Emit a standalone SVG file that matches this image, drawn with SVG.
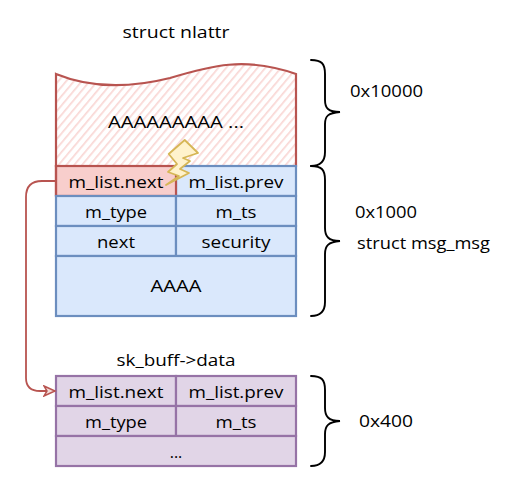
<svg xmlns="http://www.w3.org/2000/svg" width="522" height="482" viewBox="0 0 522 482">
<defs>
<style>
text{font-family:"Open Sans","DejaVu Sans",sans-serif;font-size:16px;fill:#000;text-anchor:middle;dominant-baseline:central}
.l{text-anchor:start}
.blue{fill:#dae8fc;stroke:#6c8ebf;stroke-width:2.2}
.pink{fill:#f8cecc;stroke:#b85450;stroke-width:2.2}
.purple{fill:#e1d5e7;stroke:#9673a6;stroke-width:2.2}
.brace{fill:none;stroke:#000;stroke-width:1.9;stroke-linecap:round}
</style>
<pattern id="hatch" width="6" height="6" patternUnits="userSpaceOnUse" patternTransform="rotate(-50)">
<rect x="0" y="0" width="6" height="1.7" fill="#f9d7d5"/>
</pattern>
<marker id="arr" markerWidth="14" markerHeight="12" refX="12" refY="6" orient="auto" markerUnits="userSpaceOnUse">
<path d="M1 1 L12 6 L1 11 L4 6 Z" fill="#f3dcd9" stroke="#b85450" stroke-width="1.5"/>
</marker>
</defs>
<text x="176" y="32" textLength="107" lengthAdjust="spacingAndGlyphs">struct nlattr</text>
<g id="nlattr">
<path d="M56 74 C 90 88 130 88 170 78 C 210 66 245 56 296 74 L296 166 L56 166 Z" fill="url(#hatch)" stroke="none"/>
<path d="M56 74 C 90 88 130 88 170 78 C 210 66 245 56 296 74 L296 166 L56 166 Z" fill="none" stroke="#b85450" stroke-width="2.2"/>
<text x="176" y="122" textLength="136" lengthAdjust="spacingAndGlyphs">AAAAAAAAA ...</text>
</g>
<g id="msg_msg">
<g id="m1-prev"><rect class="blue" x="176" y="166" width="120" height="30"/><text x="236" y="182" textLength="95" lengthAdjust="spacingAndGlyphs">m_list.prev</text></g>
<g id="m1-next"><rect class="pink" x="56" y="166" width="120" height="30" stroke="none"/><path d="M56 196 V166 H176" fill="none" stroke="#b85450" stroke-width="2.2"/><text x="116" y="182" textLength="95" lengthAdjust="spacingAndGlyphs">m_list.next</text></g>
<g id="m1-type"><rect class="blue" x="56" y="196" width="120" height="30"/><text x="116" y="212" textLength="62" lengthAdjust="spacingAndGlyphs">m_type</text></g>
<g id="m1-ts"><rect class="blue" x="176" y="196" width="120" height="30"/><text x="236" y="212" textLength="41" lengthAdjust="spacingAndGlyphs">m_ts</text></g>
<g id="m1-nx"><rect class="blue" x="56" y="226" width="120" height="30"/><text x="116" y="242" textLength="38" lengthAdjust="spacingAndGlyphs">next</text></g>
<g id="m1-sec"><rect class="blue" x="176" y="226" width="120" height="30"/><text x="236" y="242" textLength="69" lengthAdjust="spacingAndGlyphs">security</text></g>
<g id="m1-a"><rect class="blue" x="56" y="256" width="240" height="60"/><text x="176" y="286" textLength="51" lengthAdjust="spacingAndGlyphs">AAAA</text></g>
</g>
<g id="bolt"><path d="M184.7 140 L168.7 154 L177 164 L168 172 L179 176 L166 185 L189 173 L180 169 L190 161 L183 158 L198 153 Z" fill="#fff2cc" stroke="#d6b656" stroke-width="1.8" stroke-linejoin="round"/></g>
<text x="176" y="360" textLength="119" lengthAdjust="spacingAndGlyphs">sk_buff-&gt;data</text>
<g id="sk_buff">
<g id="m2-next"><rect class="purple" x="56" y="376" width="120" height="30"/><text x="116" y="392" textLength="95" lengthAdjust="spacingAndGlyphs">m_list.next</text></g>
<g id="m2-prev"><rect class="purple" x="176" y="376" width="120" height="30"/><text x="236" y="392" textLength="95" lengthAdjust="spacingAndGlyphs">m_list.prev</text></g>
<g id="m2-type"><rect class="purple" x="56" y="406" width="120" height="30"/><text x="116" y="422" textLength="62" lengthAdjust="spacingAndGlyphs">m_type</text></g>
<g id="m2-ts"><rect class="purple" x="176" y="406" width="120" height="30"/><text x="236" y="422" textLength="41" lengthAdjust="spacingAndGlyphs">m_ts</text></g>
<g id="m2-rest"><rect class="purple" x="56" y="436" width="240" height="30"/><text x="176" y="452">...</text></g>
</g>
<g id="connectors">
<path d="M56 181 H42 Q26 181 26 197 V378 Q26 391 40 391 H55" fill="none" stroke="#b85450" stroke-width="1.8" marker-end="url(#arr)"/>
</g>
<g id="braces">
<path class="brace" d="M311 60 C322 60 325 64 325 74 V100 C325 108 328 112 340 112 C328 113 325 116 325 124 V152 C325 161 321 166 311 166"/>
<path class="brace" d="M311 166 C322 166 325 170 325 180 V228 C325 236 328 241 340 241 C328 242 325 246 325 254 V302 C325 311 321 316 311 316"/>
<path class="brace" d="M311 376 C322 376 325 380 325 390 V408 C325 416 328 421 340 421 C328 422 325 426 325 434 V452 C325 461 321 466 311 466"/>
</g>
<g id="labels">
<text class="l" x="350" y="91" textLength="73" lengthAdjust="spacingAndGlyphs">0x10000</text>
<text class="l" x="355" y="212" textLength="62" lengthAdjust="spacingAndGlyphs">0x1000</text>
<text class="l" x="357" y="243" textLength="133" lengthAdjust="spacingAndGlyphs">struct msg_msg</text>
<text class="l" x="359" y="421" textLength="54" lengthAdjust="spacingAndGlyphs">0x400</text>
</g>
</svg>
